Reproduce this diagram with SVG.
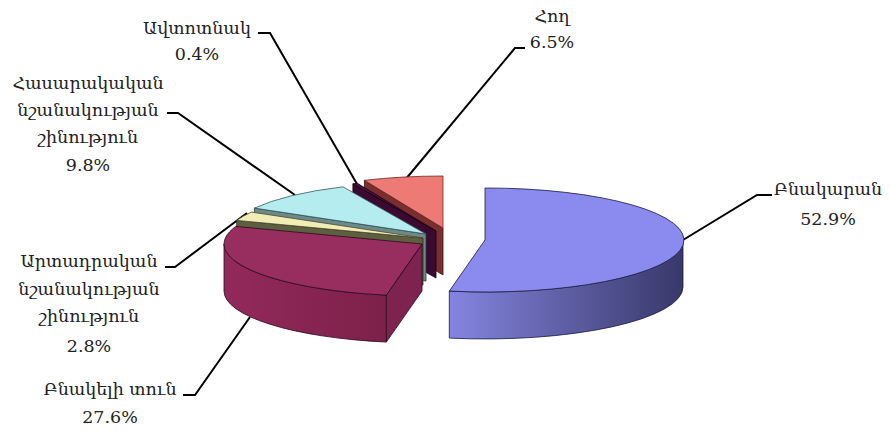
<svg xmlns="http://www.w3.org/2000/svg" width="890" height="431" viewBox="0 0 890 431">
<defs>
<style>
.lbl{font-family:"DejaVu Serif","Noto Serif","Noto Sans","DejaVu Sans",serif;font-size:17.5px;fill:#222;text-anchor:middle}
.lead{fill:none;stroke:#000;stroke-width:2}
.e{stroke-width:0.8;stroke-linejoin:round}
</style>
<linearGradient id="gBlue" x1="0" y1="0" x2="1" y2="0">
<stop offset="0" stop-color="#8585e0"/>
<stop offset="0.55" stop-color="#5a5a9e"/>
<stop offset="1" stop-color="#38386a"/>
</linearGradient>
<linearGradient id="gMar" x1="0" y1="0" x2="1" y2="0">
<stop offset="0" stop-color="#93295c"/>
<stop offset="1" stop-color="#7c2149"/>
</linearGradient>
</defs>
<rect width="890" height="431" fill="#fff"/>
<g id="connectors">
<path class="lead" d="M258,33 L270,33 L357,184"/>
<path class="lead" d="M167,113 L178,113 L295,195"/>
<path class="lead" d="M525,48 L515,48 L405,180"/>
<path class="lead" d="M772,195 L757,195 L683,240"/>
<path class="lead" d="M165,267 L175,267 L247,213"/>
<path class="lead" d="M183,395 L195,395 L250,317"/>
</g>
<g id="slice-hogh">
<path class="e" d="M443,228 L364.4,180.3 L364.4,227.3 L443,275 Z" fill="#7a2e2e" stroke="#3a1010"/>
<path class="e" d="M443,228 L364.4,180.3 A198,52 0 0 1 443,176 Z" fill="#ee7a76" stroke="#6a2a2a"/>
</g>
<g id="slice-avtotnak">
<path class="e" d="M436,231 L352.9,183.8 L352.9,230.8 L436,278 Z" fill="#3a0a30" stroke="#1a0010"/>
<path class="e" d="M436,231 L352.9,183.8 A198,52 0 0 1 357.4,183.3 Z" fill="#4a1040" stroke="#1a0010"/>
</g>
<g id="slice-hasarakakan">
<path class="e" d="M426,234 L254.4,208.1 L254.4,255.1 L426,281 Z" fill="#6c8a8a" stroke="#2a3a3a"/>
<path class="e" d="M426,234 L254.4,208.1 A198,52 0 0 1 342.9,186.8 Z" fill="#b5ecef" stroke="#3a5a5a"/>
</g>
<g id="slice-artadrakan">
<path class="e" d="M423,238 L236.7,220.4 L236.7,267.4 L423,285 Z" fill="#5f5e40" stroke="#2a2a1a"/>
<path class="e" d="M423,238 L236.7,220.4 A198,52 0 0 1 251.4,212.1 Z" fill="#f1edb5" stroke="#4a4a30"/>
</g>
<g id="slice-bnakeli-tun">
<path class="e" d="M422,244 L386.3,295.1 L386.3,342.1 L422,291 Z" fill="#7e2350" stroke="#2a0a1a"/>
<path class="e" d="M386.3,295.1 A198,52 0 0 1 224,244 L224,291 A198,52 0 0 0 386.3,342.1 Z" fill="url(#gMar)" stroke="#2a0a1a"/>
<path class="e" d="M422,244 L386.3,295.1 A198,52 0 0 1 235.7,226.4 Z" fill="#982e60" stroke="#2a0a1a"/>
</g>
<g id="slice-bnakaran">
<path class="e" d="M683,240 A198,52 0 0 1 449.3,291.1 L449.3,338.1 A198,52 0 0 0 683,287 Z" fill="url(#gBlue)" stroke="#1a1a40"/>
<path class="e" d="M485,240 L485,188 A198,52 0 1 1 449.3,291.1 Z" fill="#8b8bef" stroke="#1a1a40"/>
</g>
<g id="labels">
<g id="label-avtotnak"><text class="lbl" x="197" y="34">Ավտոտնակ</text><text class="lbl" x="197" y="60">0.4%</text></g>
<g id="label-hasarakakan"><text class="lbl" x="88" y="89">Հասարակական</text><text class="lbl" x="88" y="116">նշանակության</text><text class="lbl" x="88" y="143">շինություն</text><text class="lbl" x="88" y="171">9.8%</text></g>
<g id="label-hogh"><text class="lbl" x="552" y="22">Հող</text><text class="lbl" x="552" y="48">6.5%</text></g>
<g id="label-bnakaran"><text class="lbl" x="828" y="195">Բնակարան</text><text class="lbl" x="828" y="225">52.9%</text></g>
<g id="label-artadrakan"><text class="lbl" x="89" y="267">Արտադրական</text><text class="lbl" x="89" y="295">նշանակության</text><text class="lbl" x="89" y="322">շինություն</text><text class="lbl" x="89" y="352">2.8%</text></g>
<g id="label-bnakeli-tun"><text class="lbl" x="110" y="395">Բնակելի տուն</text><text class="lbl" x="110" y="423">27.6%</text></g>
</g>
</svg>
